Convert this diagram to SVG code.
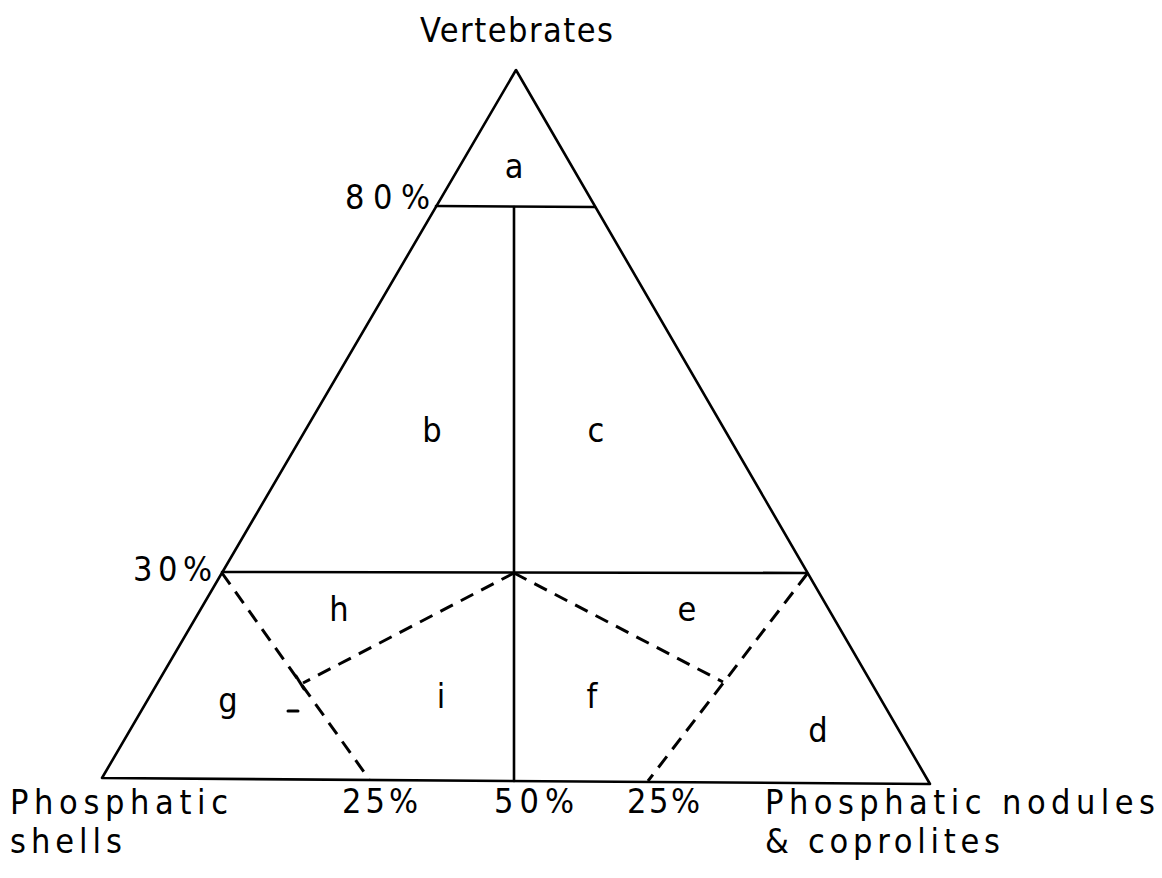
<svg xmlns="http://www.w3.org/2000/svg" width="1162" height="878" viewBox="0 0 1162 878">
<style>
.solid{stroke:#000;stroke-width:2.6;fill:none;stroke-linecap:round;stroke-linejoin:round}
.dash{stroke:#000;stroke-width:3;fill:none;stroke-dasharray:14 9}
.tk{stroke:#000;stroke-width:3;fill:none;stroke-linecap:round}
text{font-family:"DejaVu Sans Condensed","DejaVu Sans","Liberation Sans",sans-serif;font-size:34px;fill:#000}
.reg{text-anchor:middle}
</style>
<rect width="1162" height="878" fill="#fff"/>
<g id="connectors">
<path class="solid" d="M516,70 L102,778 L930,784 Z"/>
<line class="solid" x1="436" y1="206" x2="595" y2="207"/>
<line class="solid" x1="514" y1="207" x2="514" y2="781"/>
<line class="solid" x1="222" y1="572" x2="807" y2="573"/>
<line class="dash" x1="222" y1="573" x2="369" y2="779"/>
<line class="dash" x1="514" y1="573" x2="303" y2="683"/>
<line class="dash" x1="807" y1="574" x2="648" y2="781"/>
<line class="dash" x1="514" y1="573" x2="723" y2="682"/>
<line class="tk" x1="296" y1="676" x2="304" y2="689"/>
<line class="tk" x1="288" y1="711" x2="298" y2="711"/>
</g>
<g id="node-a"><text class="reg" x="514" y="178">a</text></g>
<g id="node-b"><text class="reg" x="432" y="442">b</text></g>
<g id="node-c"><text class="reg" x="596" y="442">c</text></g>
<g id="node-h"><text class="reg" x="339" y="621">h</text></g>
<g id="node-e"><text class="reg" x="687" y="621">e</text></g>
<g id="node-g"><text class="reg" x="228" y="712">g</text></g>
<g id="node-i"><text class="reg" x="441" y="708">i</text></g>
<g id="node-f"><text class="reg" x="592" y="708">f</text></g>
<g id="node-d"><text class="reg" x="818" y="742">d</text></g>
<g id="labels">
<text x="420" y="42" textLength="193" lengthAdjust="spacing">Vertebrates</text>
<text x="345" y="209" textLength="85" lengthAdjust="spacing">80%</text>
<text x="133" y="581" textLength="79" lengthAdjust="spacing">30%</text>
<text x="342" y="813" textLength="76" lengthAdjust="spacing">25%</text>
<text x="494" y="813" textLength="80" lengthAdjust="spacing">50%</text>
<text x="627" y="813" textLength="73" lengthAdjust="spacing">25%</text>
<text x="10" y="814" textLength="218" lengthAdjust="spacing">Phosphatic</text>
<text x="10" y="853" textLength="112" lengthAdjust="spacing">shells</text>
<text x="765" y="814" textLength="390" lengthAdjust="spacing">Phosphatic  nodules</text>
<text x="765" y="853" textLength="235" lengthAdjust="spacing">&amp; coprolites</text>
</g>
</svg>
